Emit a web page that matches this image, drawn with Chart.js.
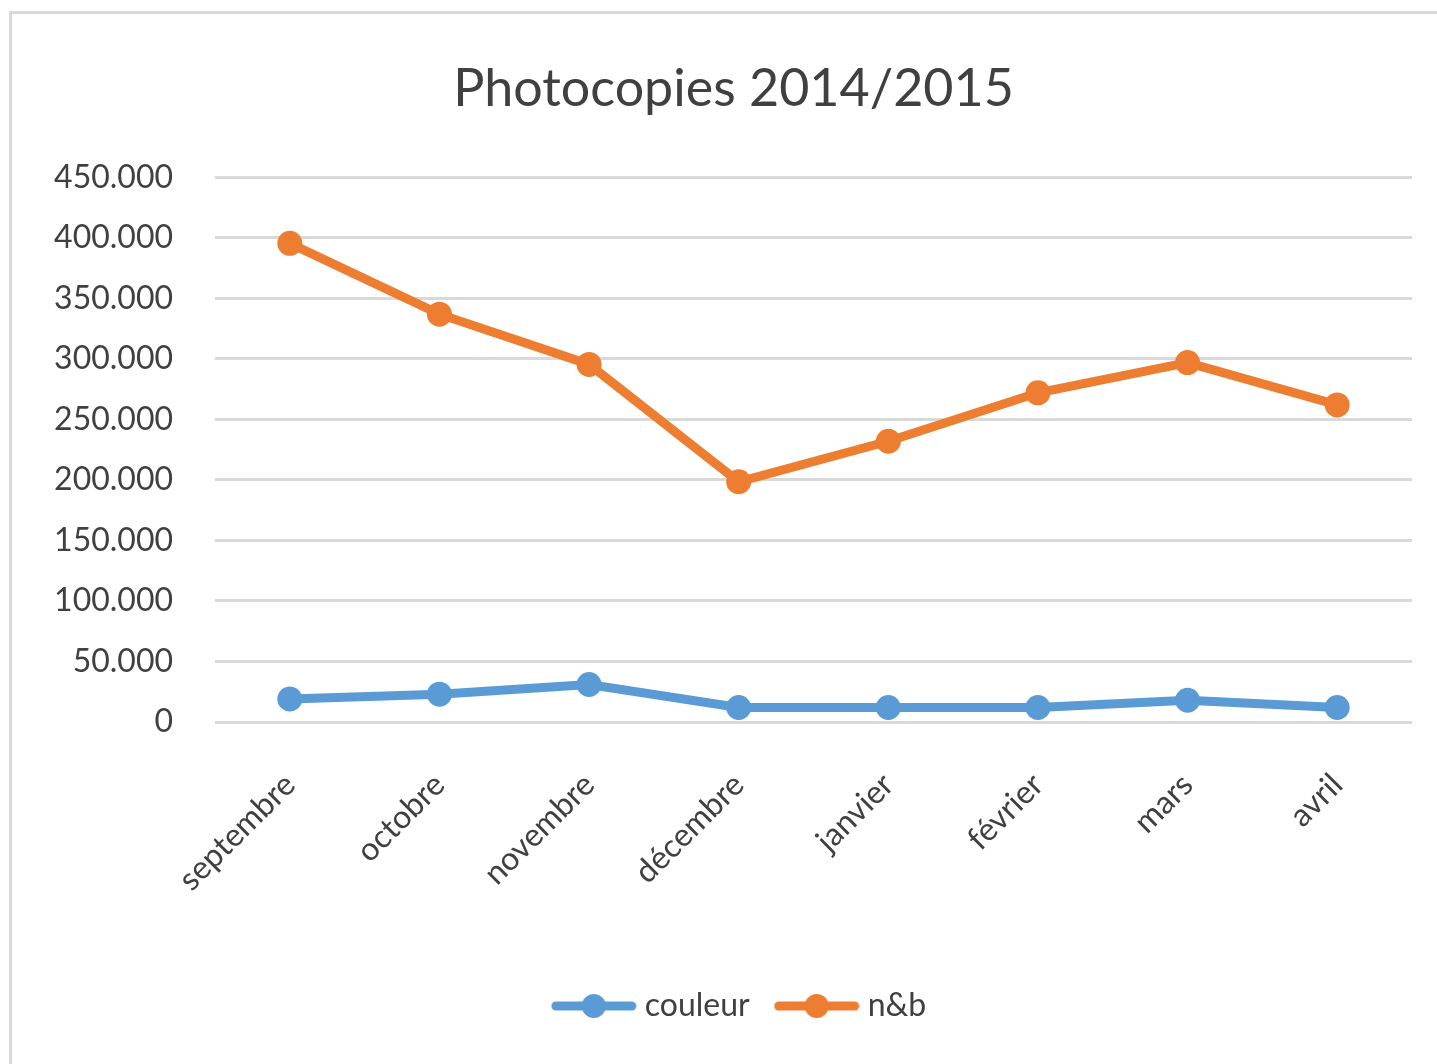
<!DOCTYPE html>
<html>
<head>
<meta charset="utf-8">
<script src="https://cdn.jsdelivr.net/npm/chart.js@4/dist/chart.umd.min.js"></script>
<style>
  body { margin: 0; background: #fff; }
  .frame { position: absolute; left: 9px; top: 11px; width: 1440px; height: 1070px;
           border-left: 3px solid #d9d9d9; border-top: 3px solid #d9d9d9; }
  canvas { position: absolute; left: 0; top: 0; }
</style>
</head>
<body>
<div class="frame"></div>
<canvas class="my-chart" width="1437" height="1064"></canvas>
<script>
const months = ['septembre', 'octobre', 'novembre', 'décembre', 'janvier', 'février', 'mars', 'avril'];
const couleur = [19000, 23000, 31000, 12000, 12000, 12000, 18000, 12000];
const nb = [395500, 337000, 295500, 198500, 232000, 272000, 297000, 262000];
const seriesNames = ['couleur', 'n&b'];
const seriesColors = ['#5B9BD5', '#ED7D31'];

const font = 'Lato, Calibri, Carlito, sans-serif';
const textColor = '#404040';

// legend marker: line with a dot in the middle
function legendMarker(color) {
    const c = document.createElement('canvas');
    c.width = 86; c.height = 28;
    const ctx = c.getContext('2d');
    ctx.strokeStyle = color;
    ctx.lineWidth = 9;
    ctx.lineCap = 'round';
    ctx.beginPath();
    ctx.moveTo(5, 14); ctx.lineTo(81, 14);
    ctx.stroke();
    ctx.fillStyle = color;
    ctx.beginPath();
    ctx.arc(43, 14, 12, 0, Math.PI * 2);
    ctx.fill();
    return c;
}

function fmt(v) {
    return String(v).replace(/\B(?=(\d{3})+(?!\d))/g, '.');
}

// title and legend sit a bit right of the canvas centre in the original
const shiftBlocks = {
    id: 'shiftBlocks',
    afterLayout: function(chart) {
        if (chart.titleBlock) { chart.titleBlock.left += 20; chart.titleBlock.right += 20; }
        if (chart.legend) { chart.legend.left += 29; chart.legend.right += 29; }
    },
};

const myChart = document.querySelector('.my-chart');

new Chart(myChart, {
    type: 'line',
    data: {
        labels: months,
        datasets: [couleur, nb].map(function(values, i) {
            return {
                label: seriesNames[i],
                data: values,
                borderColor: seriesColors[i],
                backgroundColor: seriesColors[i],
                borderWidth: 9,
                pointRadius: 12.5,
                pointHoverRadius: 12.5,
                pointBorderWidth: 0,
                tension: 0,
            };
        }),
    },
    options: {
        responsive: false,
        animation: false,
        layout: { padding: { left: 15, right: 25, top: 58, bottom: 32 } },
        scales: {
            x: {
                offset: true,
                grid: { display: false },
                border: { display: false },
                ticks: {
                    color: textColor,
                    font: { family: font, size: 32 },
                    minRotation: 45,
                    maxRotation: 45,
                    padding: 36,
                },
                afterFit: function(scale) { scale.height = 236; },
            },
            y: {
                min: 0,
                max: 450000,
                grid: { color: '#d9d9d9', lineWidth: 3, drawTicks: false },
                border: { display: false },
                ticks: {
                    stepSize: 50000,
                    color: textColor,
                    font: { family: font, size: 32 },
                    padding: 42,
                    callback: function(v) { return fmt(v); },
                },
                afterFit: function(scale) { scale.width = 200; },
            },
        },
        plugins: {
            title: {
                display: true,
                text: 'Photocopies 2014/2015',
                color: textColor,
                font: { family: font, size: 52, weight: 'normal' },
                padding: { top: 0, bottom: 57 },
            },
            legend: {
                position: 'bottom',
                labels: {
                    color: textColor,
                    font: { family: font, size: 32 },
                    usePointStyle: true,
                    pointStyleWidth: 70,
                    boxHeight: 26,
                    padding: 32,
                    generateLabels: function(chart) {
                        return chart.data.datasets.map(function(ds, i) {
                            return {
                                text: ds.label,
                                fontColor: textColor,
                                pointStyle: legendMarker(seriesColors[i]),
                                datasetIndex: i,
                                lineWidth: 0,
                                strokeStyle: 'transparent',
                                fillStyle: seriesColors[i],
                            };
                        });
                    },
                },
            },
            tooltip: { enabled: false },
        },
    },
    plugins: [shiftBlocks],
});
</script>
</body>
</html>
